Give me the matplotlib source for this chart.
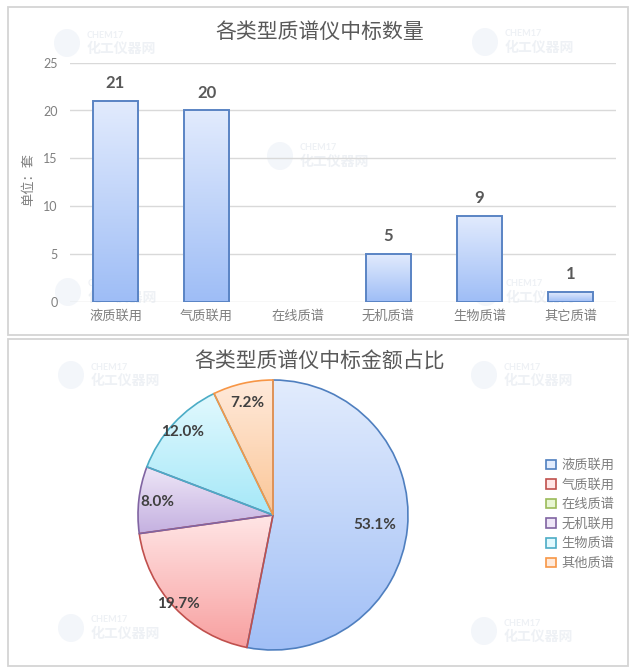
import matplotlib
matplotlib.use('Agg')
import matplotlib.pyplot as plt
import numpy as np
from matplotlib.patches import Rectangle, Patch, Ellipse
from matplotlib.colors import LinearSegmentedColormap

plt.rcParams['font.family'] = ['Noto Sans CJK SC', 'DejaVu Sans']

# ---------------- data ----------------
bar_title = '各类型质谱仪中标数量'
bar_categories = ['液质联用', '气质联用', '在线质谱', '无机质谱', '生物质谱', '其它质谱']
bar_values = [21, 20, 0, 5, 9, 1]
bar_ylabel = '单位：套'
bar_yticks = [0, 5, 10, 15, 20, 25]

pie_title = '各类型质谱仪中标金额占比'
pie_labels = ['液质联用', '气质联用', '在线质谱', '无机联用', '生物质谱', '其他质谱']
pie_values = [53.1, 19.7, 0.0, 8.0, 12.0, 7.2]

# ---------------- styles ----------------
W, H = 634, 671
fig = plt.figure(figsize=(W / 100, H / 100), dpi=100)
fig.patch.set_facecolor('white')

GREY = '#7f7f7f'
DARK = '#404040'
num_font = ['Lato', 'DejaVu Sans']

bar_grad = ('#e2ebfd', '#9ebdf6')
bar_edge = '#5a84c4'
pie_grads = [('#e2ecfd', '#a1bff6'), ('#ffe6e6', '#f8a0a0'), ('#e8f6d3', '#c2e19a'),
             ('#eee6f7', '#c4b0e0'), ('#e2f9fe', '#a5e8f8'), ('#ffeadb', '#fbc697')]
pie_edges = ['#4f7fbf', '#c0504d', '#9bbb59', '#8064a2', '#4bacc6', '#f79646']
pct_dist = [0.76, 0.96, 0.0, 0.86, 0.91, 0.85]


def px_axes(x0, y0, x1, y1):
    return fig.add_axes([x0 / W, 1 - y1 / H, (x1 - x0) / W, (y1 - y0) / H])


def fx(x):
    return x / W


def fy(y):
    return 1 - y / H


# panel borders
for (y0, y1) in [(7, 335), (339, 666)]:
    fig.patches.append(Rectangle((fx(8), fy(y1)), fx(628) - fx(8), fy(y0) - fy(y1),
                                 transform=fig.transFigure, fill=False,
                                 edgecolor='#d4d4d4', linewidth=1.3, zorder=-2))

# faint watermarks (drawn beneath the axes)
wm_pos = [(87, 35), (505, 34), (300, 148), (88, 284), (506, 284),
          (91, 367), (504, 367), (300, 480), (91, 620), (504, 623)]
for (x, y) in wm_pos:
    fig.patches.append(Ellipse((fx(x - 20), fy(y + 8)), 26 / W, 28 / H,
                               transform=fig.transFigure, facecolor='#f3f6fa',
                               edgecolor='none', zorder=-1.5))
    fig.text(fx(x), fy(y), 'CHEM17', fontsize=6.5, color='#eef1f5',
             ha='left', va='center', family=num_font, weight='bold', zorder=-1)
    fig.text(fx(x), fy(y + 14), '化工仪器网', fontsize=10, color='#eef1f5',
             ha='left', va='center', weight='bold', zorder=-1)


def vgrad(ax, patch, c_top, c_bot, extent):
    cmap = LinearSegmentedColormap.from_list('g', [c_bot, c_top])
    grad = np.linspace(1, 0, 256).reshape(-1, 1)
    im = ax.imshow(grad, extent=extent, cmap=cmap, aspect='auto',
                   zorder=patch.get_zorder() - 0.1, interpolation='bicubic')
    im.set_clip_path(patch)
    return im


# ---------------- bar chart ----------------
ax1 = px_axes(70, 62.7, 616, 301.7)
x = np.arange(len(bar_categories))
bars = ax1.bar(x, bar_values, width=0.505, facecolor='none', edgecolor=bar_edge,
               linewidth=1.4, zorder=3)
for b, v in zip(bars, bar_values):
    if v <= 0:
        b.set_visible(False)
        continue
    bx, by = b.get_x(), b.get_y()
    vgrad(ax1, b, bar_grad[0], bar_grad[1], [bx, bx + b.get_width(), by, by + b.get_height()])
    ax1.annotate(str(v), (b.get_x() + b.get_width() / 2, v), xytext=(0, 7),
                 textcoords='offset points', ha='center', va='bottom',
                 fontsize=12, fontweight='bold', color='#595959', family=num_font)

ax1.set_xlim(-0.5, 5.5)
ax1.set_ylim(0, 25)
ax1.set_yticks(bar_yticks)
ax1.set_xticks(x)
ax1.set_xticklabels(bar_categories, fontsize=9.5, color=GREY)
ax1.tick_params(axis='x', length=0, pad=6)
ax1.tick_params(axis='y', length=0, pad=9, labelcolor=GREY, labelsize=9)
for lab in ax1.get_yticklabels():
    lab.set_family(num_font)
ax1.grid(axis='y', color='#d9d9d9', linewidth=1)
ax1.set_axisbelow(True)
for s in ax1.spines.values():
    s.set_visible(False)
ax1.set_facecolor('none')
fig.text(fx(29), fy(180), bar_ylabel, rotation=90, ha='center', va='center',
         fontsize=9.5, color=GREY)
fig.text(fx(320), fy(32), bar_title, ha='center', va='center', fontsize=15,
         color='#595959')

# ---------------- pie chart ----------------
cx, cy, R = 273, 515, 135
half = 145
ax2 = px_axes(cx - half, cy - half, cx + half, cy + half)
wedges, _ = ax2.pie(pie_values, startangle=90, counterclock=False, radius=1,
                    wedgeprops=dict(linewidth=1.2))
for w, v, g, ec, d in zip(wedges, pie_values, pie_grads, pie_edges, pct_dist):
    w.set_facecolor('none')
    w.set_edgecolor(ec)
    w.set_zorder(3)
    if v <= 0:
        w.set_visible(False)
        continue
    ext = w.get_path().get_extents()
    vgrad(ax2, w, g[0], g[1], [ext.x0, ext.x1, ext.y0, ext.y1])
    ang = np.deg2rad((w.theta1 + w.theta2) / 2)
    ax2.text(d * np.cos(ang), d * np.sin(ang), f'{v:.1f}%', ha='center', va='center',
             fontsize=11, fontweight='bold', color=DARK, family=num_font, zorder=5)
lim = half / R
ax2.set_xlim(-lim, lim)
ax2.set_ylim(-lim, lim)
ax2.set_aspect('equal')
ax2.axis('off')
fig.text(fx(320), fy(362), pie_title, ha='center', va='center', fontsize=15,
         color='#595959')

handles = [Patch(facecolor=g[0], edgecolor=ec, linewidth=1.2) for g, ec in zip(pie_grads, pie_edges)]
leg = fig.legend(handles, pie_labels, loc='upper left',
                 bbox_to_anchor=(fx(546), fy(459)), frameon=False, fontsize=9.5,
                 handlelength=0.75, handleheight=0.75, handletextpad=0.4,
                 labelspacing=0.5, borderpad=0, borderaxespad=0)
for t in leg.get_texts():
    t.set_color(GREY)

fig.savefig('out.png', dpi=100)
